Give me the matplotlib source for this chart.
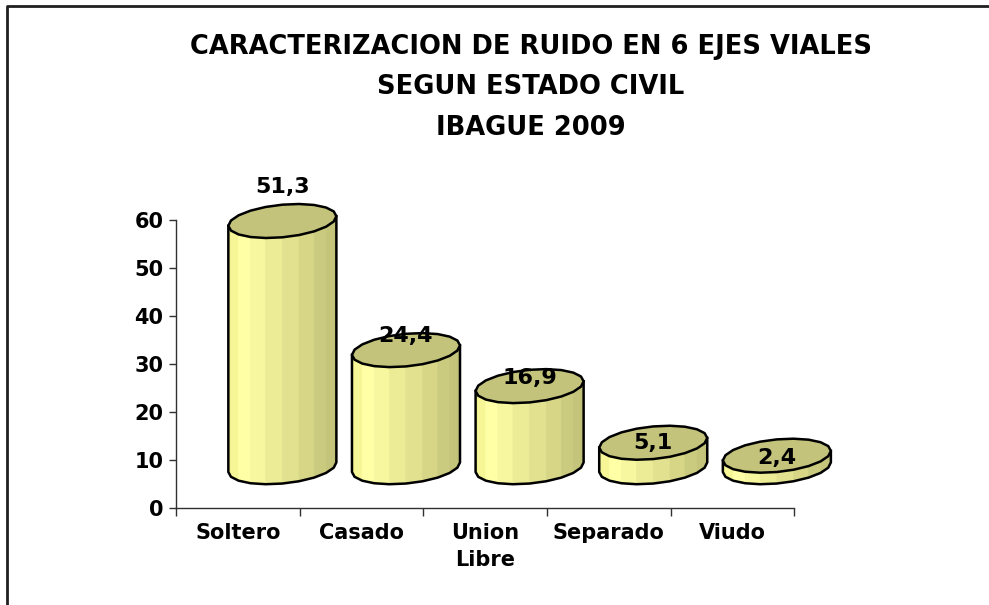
import numpy as np
import matplotlib.pyplot as plt
from matplotlib.colors import LinearSegmentedColormap
from matplotlib.patches import Polygon
from matplotlib.lines import Line2D

# datos
categorias = ['Soltero', 'Casado', 'Union\nLibre', 'Separado', 'Viudo']
porcentajes = [51.3, 24.4, 16.9, 5.1, 2.4]
titulo = ['CARACTERIZACION DE RUIDO EN 6 EJES VIALES',
          'SEGUN ESTADO CIVIL',
          'IBAGUE 2009']
yticks = [0, 10, 20, 30, 40, 50, 60]

plt.rcParams['font.family'] = 'DejaVu Sans'
plt.rcParams['font.weight'] = 'bold'

fig = plt.figure(figsize=(9.89, 6.05), dpi=100)
ax = fig.add_axes([0.178, 0.1603, 0.625, 0.476])

# marco de la figura
fig.add_artist(Line2D([7/989, 7/989, 1], [0, 1-6/605, 1-6/605],
                      transform=fig.transFigure, color='#202020', lw=2))

for n, linea in enumerate(titulo):
    fig.text(0.537, 1 - (47 + 40.5*n)/605, linea, ha='center', va='center',
             fontsize=18.5, fontweight='bold')

# cilindros "3d"
cuerpo = LinearSegmentedColormap.from_list('cuerpo', [
    (0.0, '#F0F08E'), (0.15, '#FFFFA6'), (0.4, '#EEEE98'),
    (0.7, '#D8D888'), (1.0, '#BFBF76')])
tapa = '#C3C37B'
base = 8.5
dx = 0.36      # desplazamiento por profundidad
a = 0.437
b = 3.4
k = 1.0        # inclinacion de la elipse
nseg = 20


def elipse(cx, cy, th):
    return cx + a*np.cos(th), cy + b*np.sin(th) + k*np.cos(th)


for i, v in enumerate(porcentajes):
    cx = i + dx
    y0 = base
    y1 = base + v
    th = np.linspace(np.pi, 2*np.pi, nseg//2 + 1)
    for j in range(len(th) - 1):
        t = th[j:j+2]
        xs, yb = elipse(cx, y0, t)
        _, yt = elipse(cx, y1, t)
        c = cuerpo((np.cos(t).mean() + 1) / 2)
        ax.add_patch(Polygon([(xs[0], yb[0]), (xs[1], yb[1]), (xs[1], yt[1]), (xs[0], yt[0])],
                             closed=True, fc=c, ec=c, lw=0.5, clip_on=False, zorder=3))
    xs, yb = elipse(cx, y0, th)
    ax.plot(np.r_[cx - a, xs, cx + a], np.r_[y1 - k, yb, y1 + k],
            color='k', lw=1.8, clip_on=False, zorder=4, solid_joinstyle='round')
    tt = np.linspace(0, 2*np.pi, nseg + 1)
    xs, ys = elipse(cx, y1, tt)
    ax.add_patch(Polygon(np.c_[xs, ys], closed=True, fc=tapa, ec='k', lw=1.8,
                         clip_on=False, zorder=5, joinstyle='round'))
    ax.text(cx, 1.155*v + 7.63, f'{v:.1f}'.replace('.', ','), ha='center', va='center',
            fontsize=16, fontweight='bold', zorder=6)

ax.set_xlim(-0.5, 4.5)
ax.set_ylim(0, 60)
for s in ['top', 'right']:
    ax.spines[s].set_visible(False)
for s in ['left', 'bottom']:
    ax.spines[s].set_color('#303030')
    ax.spines[s].set_linewidth(1.0)

ax.set_yticks(yticks)
ax.tick_params(axis='y', length=5, width=1, color='#303030', labelsize=15, pad=4)
ax.set_xticks(range(len(categorias)))
ax.set_xticklabels(categorias, fontsize=15, fontweight='bold', linespacing=1.45, va='top')
ax.set_xticks(np.arange(-0.5, len(categorias), 1), minor=True)
ax.tick_params(axis='x', which='major', length=0, pad=11)
ax.tick_params(axis='x', which='minor', length=6, width=1, color='#303030')

fig.savefig('out.png', dpi=100)
